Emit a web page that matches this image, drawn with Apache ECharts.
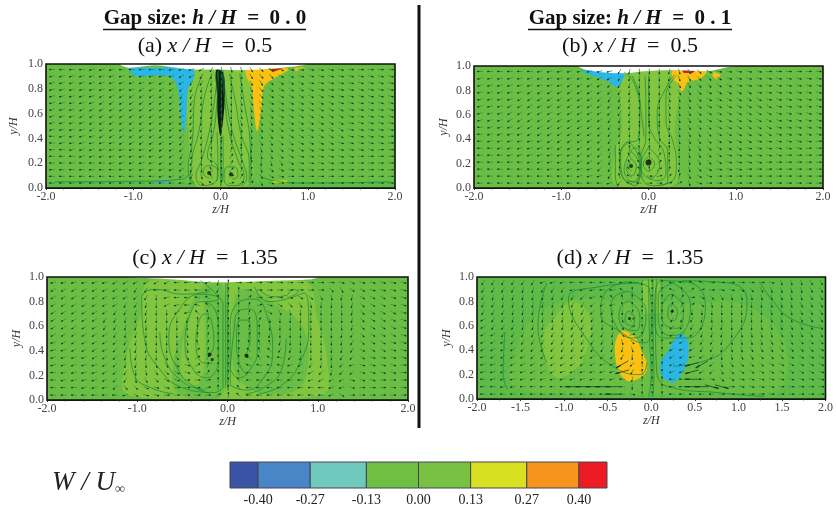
<!DOCTYPE html>
<html><head><meta charset="utf-8">
<style>html,body{margin:0;padding:0;background:#fff}#c{width:836px;height:513px;filter:blur(0.5px)}</style>
<script src="https://cdn.jsdelivr.net/npm/echarts@6/dist/echarts.min.js"></script>
</head><body><div id="c"></div>
<script>
// Colour bar
const levelEdges=[-0.47,-0.40,-0.27,-0.13,0,0.13,0.27,0.40,0.47];
const levelColors=['#3a53a4','#4886c8','#6fc9bd','#6fbf45','#78c143','#d9e021','#f7941d','#ed1c24'];
const levelTicks=[-0.40,-0.27,-0.13,0,0.13,0.27,0.40];
// Contour colours
const BASE='#6bbe43',LIGHT='#83c53e',DARK='#60ba47',BLUE='#2bb6e8',ORANGE='#fdc010',RED='#c0202a',YEL='#e3d51c',WHITE='#ffffff';

// Velocity directions, one letter per arrow (a=0deg, each next letter +15deg, capital = long arrow)
const vecA=[
'mmmmnnnmmmmmnnnoq s ttuvwwxxxxxxaaaaa','nnnnnnnnnnnnnooqr s ttuvvwwxxxxxxxxxx','nnnnnnnnnnnoooqqr s stuuvwwwxxxxxxxxx',
'nnnnnnnnnoooopqrr s stuvvwwwwxxxxxxxx','nnnnnooooooopqqrs s stuvwwwwwwxxxxxxx','nnnnnoooooooopqrs s stuvwwwwwwwxxxxxx',
'nnnoooooooooopqrr s sttuvwwwwwwwxxxxx','nnnoooooooooooqrr s sttuvwwwwwwwxxxxx','nnnnooooooooooprr s sttuvwwwwwwwxxxxx',
'nnnnooooooooooqrs s sttuvvwwwwwwxxxxx','mnnnnoooooooopqrs s gstuuvwwwwwwxxxxa','mnnnnnnoooooopqrg g fstuuvvwwwwxxxxxa',
'mmnnnnnnnnoooprsg g fgstuvwwwxxxxxxaa','mmmnnnnnnnnooqrsh g efstuvwxxxxxxaaaa','mmmmmmnnnnnoopqsh g effstuwxxxxaaaaaa',
'mmmmmmmmnnnnnoqsi g dfftvwxxxaaaaaaaa','mmmmmmmmmmmnnoqti g cefuwxaaaaaaaaaaa','mmmmmmmmmmmmmmnvk g bcduxaaaaaaaaaaaa'];
const vecB=[
'mmmmmmnnnnnnnnqrs s srtuvwxxxxxaaaaaa','nnnnnnnnnnnnooqrs s srtuvvwxxxxxxxxxx','nnnnnnnnnoooopqrs s stuuvvwwxxxxxxxxx',
'nnnnnoooooooopqrs s stuuvwwwwwxxxxxxx','nnnnoooooooopqrrs s sttuvwwwwwwxxxxxx','nnnoooooooooopqrs s sttuvwwwwwwwxxxxx',
'nnnoooooooooopqrs s sttuvwwwwwwwxxxxx','nnnooooooooooqrrs s sttuvwwwwwwwxxxxx','mnnnoooooooopqrrg g gstuvvwwwwwwxxxxx',
'mnnnnooooooopqrsg g gstuuvwwwwwwxxxxx','mnnnnnnooooopqrsg g fstuuvwwwwxxxxxxa','mmnnnnnnoooopqsgh g fgstuvwwwxxxxxxaa',
'mmmnnnnnnnooprgih g egstuvwxxxxxxaaaa','mmmmmnnnnnooprgij g dgstuvwxxxxaaaaaa','mmmmmmmnnnnnpqgji g cfrtvwxxxaaaaaaaa',
'mmmmmmmmmmnnnqhkk a bdfuwxaaaaaaaaaaa','mmmmmmmmmmmmmnplm a abctxaaaaaaaaaaaa'];
const vecC=[
'nnnnnnoooooommmnr g aaaaaaaaaaxwxxxxx','ooooooooqqmmmmmmq g gaaaaaaaavuwwxxxx','oooooooopqsnmmlkg g gdaaaxwvutrrwwwxx',
'oooooooqqrsonmljg g gfbxwvutsssrvwwxx','ooooooqqrrssonjhg g gfdwutsssssrvwwwx','oooooqqrrrsssrgfg g gfetsssssssrvwwwx',
'oooooqqrrsssssgfg g gfgssssssssrvwwwx','ooooooqrrsssstgfg g gfgrssssssrqvwwwx','nooooopqrssssthfg g ghhhrsssssrqvwwxx',
'nnoooopqrrssstdfg g gjhjqrssssrqwwwxx','nnnnooprrrstuuceg g gkiklprsssqpwxxxx','nnnnnoprrstuvxcfg g hllllnoqrspnxxxxa',
'mnnnnopqstuvwxbeg g hmmmmmnoprppxxxxa','mnnnnopqtuvwxaabg g immmmmmnoooxxxaaa','mmmnnnpvvwxxaaabg g immmmmmmmnnxaaaaa',
'mmmmmmmnwxxaaaaac g jmmmmmmmmnwaaaaaa'];
const vecD=[
'qqqqqqnnnmmmmmmmr g gmlkkaaaaaaxtttuu','qqqqrrqqqnnnmmkgs g gkhdbaxxwvuttttuu','qrrrrrrrqqpnkjhgs g gfeawvuttttttttuu',
'qqrrrrrrrqqponhgs g gfecvtssssstttuuu','qqqrrrrrrrqpqrsfg g gfdsssssssstttuuu','oqqrrrrrrrqqrstdg g gqqqrsssssstttuuu',
'oqqqrrrrrqqqrsucg g gppqqrrssstttuuuu','ooqqqqqqqqqqqrvbg g gppprrrsttttuuuuu','ooopqqqqqqqqqstvg g goopqqrttttuuuvvv',
'ooooppppqqqqqqrtg g gonoqqrttuuuvvvvw','noooopppppooppqsg g goonoqstuuvvvwwww','nnoooooooooonnOpg g gonNOptuvvvwwwwww',
'nnnnnooonnnnnnNqg g gnnNopuvwwwwwwwwx','mnnnnnnnnnnnnnmrg g gmmMmxvwxxxxxxxxx','mmnnmmmmmMMMMMmsg g gmmMMXXaxxxxaaaaa',
'mmmmmmmmmmmmmMmxg g gmmmmmaaaaaaaaaaa'];

// Contour regions: [colour, [z,y] ...]
const regionsA=[
[DARK,[-2,.05],[-.3,.04],[-.3,0],[-2,0]],[DARK,[.35,.05],[2,.05],[2,0],[.35,0]],
[LIGHT,[-.36,.97],[.33,.97],[.34,.4],[.33,.03],[-.3,.03],[-.36,.4]],
['#8cc63f',[-.3,.1],[-.24,.02],[-.16,.01],[-.12,.06],[-.2,.12]],
[BLUE,[-1.05,.96],[-.7,.97],[-.33,.97],[-.3,.9],[-.37,.8],[-.39,.6],[-.42,.44],[-.46,.6],[-.49,.8],[-.56,.89],[-.75,.91],[-.95,.9]],
[ORANGE,[.3,.96],[.78,.96],[.6,.88],[.5,.82],[.47,.65],[.42,.46],[.38,.65],[.36,.82],[.31,.88]],
[RED,[.55,.96],[.72,.965],[.6,.935]],[ORANGE,[.85,.97],[.96,.975],[.86,.94]],
['#3aa8d8',[-.75,.06],[-.58,.06],[-.58,.045],[-.75,.045]],[YEL,[.6,.06],[.77,.06],[.75,.04],[.6,.045]],
[WHITE,[-1.15,1.0],[-1.05,.97],[-.75,.99],[-.4,.96],[-.05,.955],[.2,.95],[.5,.96],[.85,.98],[1.0,1.0]],
['#0c1a10',[-.05,.95],[.03,.93],[.05,.75],[.03,.55],[0,.42],[-.03,.55],[-.04,.75]]];
const regionsB=[
[LIGHT,[-.3,.95],[.33,.95],[.3,.5],[.3,.03],[-.38,.03],[-.38,.3],[-.3,.5]],
[BLUE,[-.75,.97],[-.28,.95],[-.3,.88],[-.37,.83],[-.45,.87],[-.6,.91],[-.75,.95]],
[ORANGE,[.28,.96],[.66,.96],[.6,.9],[.45,.87],[.42,.83],[.38,.79],[.34,.85],[.28,.9]],
[RED,[.38,.975],[.55,.97],[.5,.94],[.4,.945]],[ORANGE,[.75,.95],[.83,.93],[.78,.89],[.73,.92]],
[WHITE,[-.8,1.0],[-.72,.97],[-.35,.94],[0,.96],[.35,.965],[.7,.96],[.9,.99],[1.0,1.0]]];
const regionsC=[
[LIGHT,[-1.1,.04],[-1.12,.35],[-.98,.65],[-.85,.97],[.85,.97],[1.0,.65],[1.1,.35],[1.05,.04]],
[BASE,[-.55,.05],[-.6,.3],[-.48,.6],[-.3,.9],[-.05,.93],[-.05,.05]],
[BASE,[.1,.2],[.05,.6],[.15,.9],[.6,.75],[.83,.6],[.9,.35],[.8,.1],[.4,.05]],
[LIGHT,[-.52,.3],[-.42,.7],[-.28,.82],[-.25,.4],[-.3,.15],[-.45,.12]],
[WHITE,[-1.15,1.0],[-.6,.98],[-.25,.96],[.1,.96],[.5,.97],[.9,.98],[1.0,1.0]]];
const regionsD=[
[DARK,[-2,0],[-2,1],[2,1],[2,0]],
[BASE,[-1.6,.12],[-1.55,.42],[-1.3,.7],[-.9,.82],[-.5,.8],[0,.8],[.5,.78],[.9,.8],[1.3,.68],[1.55,.42],[1.5,.1],[1.2,.05],[-1.2,.05]],
[LIGHT,[-1.25,.5],[-1.1,.68],[-.9,.8],[-.7,.66],[-.8,.3],[-1.1,.18]],
[LIGHT,[-.1,.97],[.1,.97],[.1,.7],[-.1,.7]],
[ORANGE,[-.33,.56],[-.41,.47],[-.41,.33],[-.37,.22],[-.28,.15],[-.17,.16],[-.06,.22],[-.05,.3],[-.1,.38],[-.18,.5]],
[BLUE,[.34,.54],[.42,.47],[.42,.33],[.37,.23],[.27,.14],[.18,.15],[.11,.21],[.11,.31],[.18,.38],[.26,.48]]];

// Streamlines
const linesA=[
[[-.03,.95],[-.07,.7],[-.13,.45],[-.22,.22],[-.28,.1],[-.2,.02],[-.1,.03],[-.03,.1],[-.06,.17],[-.15,.18],[-.2,.12],[-.13,.08]],
[[-.02,.95],[-.04,.7],[-.08,.45],[-.15,.25],[-.06,.2],[-.02,.14]],[[-.1,.92],[-.18,.75],[-.25,.45],[-.33,.22],[-.34,.1],[-.3,.03]],
[[-.2,.92],[-.3,.7],[-.32,.4],[-.37,.15],[-.33,.03]],[[-1.9,.05],[-.9,.055],[-.45,.07],[-.33,.14]],
[[.02,.92],[.05,.7],[.1,.45],[.2,.22],[.27,.1],[.2,.02],[.1,.02],[.04,.08],[.08,.17],[.16,.17],[.2,.1],[.13,.07]],
[[.03,.95],[.07,.7],[.15,.42],[.26,.2],[.3,.08],[.24,.01]],[[.1,.92],[.17,.7],[.23,.45],[.33,.2],[.33,.04]],
[[.22,.92],[.27,.7],[.34,.35],[.35,.04]],[[1.95,.05],[1.0,.04],[.6,.06],[.45,.1]],
[[0,.4],[0,.2],[0,.01]],[[-.04,.45],[-.03,.2],[-.04,.06]],[[.03,.42],[.03,.2],[.02,.05]]];
const linesB=[
[[-.28,.95],[-.16,.85],[-.1,.6],[-.12,.4],[-.28,.36],[-.33,.2],[-.25,.06],[-.15,.05],[-.08,.2],[-.15,.33],[-.22,.3]],
[[-.22,.38],[-.1,.2],[-.15,.02],[-.3,.1],[-.32,.28],[-.22,.38]],[[-.2,.3],[-.1,.18],[-.17,.05],[-.28,.15],[-.2,.3]],
[[-.2,.24],[-.14,.18],[-.19,.1],[-.25,.16],[-.2,.24]],[[0,.26],[.07,.2],[0,.14],[-.06,.2],[0,.26]],[[0,.33],[.13,.2],[.02,.08],[-.09,.18],[0,.33]],
[[-.04,.92],[-.03,.65],[-.03,.42],[-.09,.22],[-.07,.08],[.05,.02],[.22,.06],[.22,.3],[.12,.42],[.1,.6],[.22,.85],[.3,.93]],
[[.0,.92],[.0,.55],[.06,.42],[.18,.28],[.2,.12],[.1,.06],[0,.08]],[[.32,.92],[.2,.75],[.2,.55],[.28,.38],[.32,.2],[.3,.08],[.1,.02]],
[[-.19,.92],[-.12,.8],[-.08,.6],[-.05,.42]],[[-.38,.35],[-.38,.1],[-.35,.01]]];
const linesC=[
[[-.2,.36],[-.15,.45],[-.17,.62],[-.25,.7],[-.33,.6],[-.35,.45],[-.25,.3],[-.17,.3]],
[[-.1,.28],[-.1,.55],[-.13,.72],[-.3,.8],[-.42,.68],[-.47,.45],[-.38,.25],[-.22,.18],[-.1,.28]],
[[-.05,.1],[-.05,.6],[-.05,.78],[-.3,.86],[-.55,.72],[-.65,.5],[-.55,.25],[-.35,.1],[-.15,.06],[-.05,.1]],
[[-.2,.88],[-.5,.86],[-.8,.9],[-.95,.82],[-.92,.5],[-.75,.25],[-.5,.1],[-.2,.06]],
[[-.75,.55],[-.7,.35],[-.5,.15],[-.25,.08]],[[-1.08,.42],[-1.03,.2],[-.85,.1],[-.6,.05]],[[-.3,.97],[-.15,.88],[-.1,.82],[-.25,.8]],
[[.2,.36],[.25,.5],[.24,.65],[.15,.65],[.1,.5],[.13,.3],[.22,.2]],
[[.03,.25],[.07,.55],[.12,.72],[.25,.74],[.33,.58],[.33,.4],[.25,.25],[.12,.18],[.03,.25]],
[[.03,.12],[.03,.55],[.1,.78],[.3,.82],[.45,.65],[.5,.4],[.4,.18],[.2,.08],[.03,.12]],
[[.3,.92],[.45,.8],[.65,.82],[.85,.87],[.9,.6],[.8,.3],[.6,.12],[.35,.05]],
[[.35,.9],[.5,.84],[.65,.85],[.72,.9],[.78,.88],[.7,.84]],[[.65,.5],[.6,.25],[.4,.1],[.2,.05]],
[[0,.95],[0,.5],[0,.08]],[[-.02,.95],[-.02,.5],[-.02,.1]]];
const linesD=[
[[-.25,.72],[-.19,.66],[-.23,.6],[-.3,.64],[-.29,.7],[-.25,.72]],[[-.24,.8],[-.13,.68],[-.17,.56],[-.3,.58],[-.37,.68],[-.32,.78],[-.24,.8]],
[[-.25,.88],[-.06,.72],[-.1,.54],[-.22,.5],[-.42,.62],[-.46,.76],[-.38,.86],[-.25,.88]],[[-.3,.96],[-.02,.9],[0,.6],[-.08,.46],[-.35,.55],[-.58,.7],[-.55,.85],[-.3,.96]],
[[.24,.78],[.3,.72],[.25,.64],[.19,.68],[.2,.76],[.24,.78]],[[.24,.86],[.37,.74],[.3,.58],[.17,.6],[.12,.72],[.17,.83],[.24,.86]],
[[.25,.95],[.45,.78],[.38,.56],[.22,.52],[.08,.66],[.08,.85],[.25,.95]],[[.1,.97],[.4,.96],[.62,.78],[.55,.56],[.38,.5],[.14,.5],[.04,.7],[.05,.9],[.1,.97]],
[[-.15,.95],[-.6,.92],[-.95,.82],[-.75,.5],[-.4,.25],[-.12,.2],[-.05,.3]],[[.35,.97],[.9,.95],[1.1,.8],[.9,.45],[.55,.3],[.25,.27]],
[[-.03,.98],[-.02,.5],[0,.2],[-.03,.02]],[[.02,.98],[.02,.6],[.03,.2],[.02,.02]],[[.06,.98],[.05,.6],[.06,.25],[.2,.1],[.8,.05],[1.3,.02]],
[[1.25,.95],[1.4,.8],[1.6,.66],[1.95,.58]],[[-1.2,.95],[-1.3,.6],[-1.2,.3]],[[-1.68,.55],[-1.7,.2],[-1.65,.08]]];

// Dark spots at vortex cores: [z,y,size]
const spotsA=[[-.13,.12,4],[.12,.11,4]],spotsB=[[-.2,.18,4],[0,.21,6]],spotsC=[[-.2,.37,4],[-.17,.33,3],[.21,.36,4]],spotsD=[[-.25,.66,3],[.24,.72,3]];

// Tick steps and panel titles
const panelTitles=['(a) ','(b) ','(c) ','(d) '];
const panelValues=['0.5','0.5','1.35','1.35'];
const gapValues=['0 . 0','0 . 1'];
const xSteps=[1,1,1,0.5];

const panels=[
{l:46,t:64,w:349,h:124,vec:vecA,reg:regionsA,lin:linesA,spots:spotsA,base:BASE},
{l:474,t:66,w:349,h:122,vec:vecB,reg:regionsB,lin:linesB,spots:spotsB,base:BASE},
{l:47,t:277,w:361,h:123,vec:vecC,reg:regionsC,lin:linesC,spots:spotsC,base:BASE},
{l:477,t:277,w:351,h:122,vec:vecD,reg:regionsD,lin:linesD,spots:spotsD,base:BASE}];

const serif='"Liberation Serif","Times New Roman",serif';
const grid=[],xAxis=[],yAxis=[],series=[];
panels.forEach((p,i)=>{
  grid.push({left:p.l,top:p.t,width:p.w,height:p.h,show:true,backgroundColor:p.base,borderWidth:0});
  xAxis.push({type:'value',gridIndex:i,min:-2,max:2,interval:xSteps[i],name:'z/H',nameLocation:'middle',nameGap:i<2?15:13,
    nameTextStyle:{fontFamily:serif,fontStyle:'italic',fontSize:12,color:'#333'},
    axisLine:{show:true,lineStyle:{color:'#222',width:1}},axisTick:{length:2,lineStyle:{color:'#333'}},
    minorTick:{show:true,splitNumber:i==3?2:5,length:1.5,lineStyle:{color:'#666'}},splitLine:{show:false},
    axisLabel:{margin:3,fontFamily:serif,fontSize:12,color:'#444',formatter:v=>v.toFixed(1)}});
  yAxis.push({type:'value',gridIndex:i,min:0,max:1,interval:.2,name:'y/H',nameLocation:'middle',nameGap:i==0?26:24,
    nameTextStyle:{fontFamily:serif,fontStyle:'italic',fontSize:12,color:'#333'},
    axisLine:{show:true,lineStyle:{color:'#222',width:1}},axisTick:{length:2,lineStyle:{color:'#333'}},splitLine:{show:false},
    axisLabel:{margin:3,fontFamily:serif,fontSize:12,color:'#444',formatter:v=>v.toFixed(1)}});
  const base={xAxisIndex:i,yAxisIndex:i,silent:true,animation:false};
  series.push({...base,type:'custom',z:2,clip:true,data:p.reg.map((r,k)=>[r[1][0],r[1][1],k]),
    renderItem:(par,api)=>{const r=p.reg[api.value(2)];
      return {type:'polygon',shape:{points:r.slice(1).map(q=>api.coord(q)),smooth:r.length>5?.35:0},style:{fill:r[0]}};}});
  p.lin.forEach(l=>series.push({...base,type:'line',z:3,data:l,smooth:.5,showSymbol:false,symbol:'none',
    lineStyle:{color:'#12823f',width:.8,opacity:.85}}));
  // arrows
  const arrows=[];
  const rows=p.vec.map(s=>s.replace(/ /g,''));
  rows.forEach((s,ri)=>{const y=.955-ri*(.915/(rows.length-1));
    [...s].forEach((ch,ci)=>{const z=-1.93+ci*(3.88/34);
      const lo=ch.toLowerCase();arrows.push([z,y,(lo.charCodeAt(0)-97)*15,ch===lo?0:1]);});});
  series.push({...base,type:'custom',z:4,clip:true,data:arrows,renderItem:(par,api)=>{
    const c=api.coord([api.value(0),api.value(1)]),a=api.value(2)*Math.PI/180,L=api.value(3)?7:2.8;
    const dx=Math.cos(a),dy=-Math.sin(a);
    return {type:'group',children:[
      {type:'line',shape:{x1:c[0]-dx*L,y1:c[1]-dy*L,x2:c[0]+dx*L,y2:c[1]+dy*L},style:{stroke:api.value(3)?'#0c4a28':'#26944a',lineWidth:.8}},
      {type:'line',shape:{x1:c[0]+dx*L*.3,y1:c[1]+dy*L*.3,x2:c[0]+dx*L,y2:c[1]+dy*L},style:{stroke:'#0c4024',lineWidth:1.3}}]};}});
  series.push({...base,type:'scatter',z:5,data:p.spots,symbolSize:d=>d[2],itemStyle:{color:'#0a120c'}});
  series.push({...base,type:'custom',z:6,clip:false,data:[[0,0]],renderItem:(par)=>{const g=par.coordSys;
    return {type:'rect',shape:{x:g.x,y:g.y,width:g.width,height:g.height},style:{fill:'none',stroke:'#111',lineWidth:1.6}};}});
});
// colour bar axis
grid.push({left:230,top:462,width:377,height:26,borderWidth:0});
xAxis.push({type:'value',gridIndex:4,min:levelEdges[0],max:levelEdges[levelEdges.length-1],
  axisLine:{show:false},axisTick:{show:false},splitLine:{show:false},
  axisLabel:{customValues:levelTicks,margin:5,fontFamily:serif,fontSize:14,color:'#222',formatter:v=>v.toFixed(2)}});
yAxis.push({type:'value',gridIndex:4,min:0,max:1,show:false});
series.push({type:'custom',xAxisIndex:4,yAxisIndex:4,silent:true,animation:false,
  data:levelColors.map((c,i)=>[levelEdges[i],levelEdges[i+1],i]),
  renderItem:(par,api)=>{const a=api.coord([api.value(0),1]),b=api.coord([api.value(1),0]);
    return {type:'rect',shape:{x:a[0],y:a[1],width:b[0]-a[0],height:b[1]-a[1]},
      style:{fill:levelColors[api.value(2)],stroke:'#445',lineWidth:1}};}});

const rich={b:{fontFamily:serif,fontWeight:'bold',fontSize:21,color:'#111'},bi:{fontFamily:serif,fontWeight:'bold',fontStyle:'italic',fontSize:21,color:'#111'},
  n:{fontFamily:serif,fontWeight:'normal',fontSize:22,color:'#111'},i:{fontFamily:serif,fontWeight:'normal',fontStyle:'italic',fontSize:22,color:'#111'}};
const centers=[205,630,205,630],subTops=[35,35,247,247];
const title=[];
gapValues.forEach((g,i)=>title.push({text:'{b|Gap size: }{bi|h / H}{b|  =  '+g+'}',left:i?630:205,top:8,padding:0,textAlign:'center',textStyle:{fontWeight:'normal',rich}}));
panelTitles.forEach((t,i)=>title.push({text:'{n|'+t+'}{i|x / H}{n|  =  '+panelValues[i]+'}',left:centers[i],top:subTops[i],padding:0,textAlign:'center',textStyle:{fontWeight:'normal',rich}}));
title.push({text:'{w|W / U}{s|∞}',left:52,top:469,padding:0,textStyle:{fontWeight:'normal',rich:{w:{fontFamily:serif,fontWeight:'normal',fontStyle:'italic',fontSize:27,color:'#222'},
  s:{fontFamily:serif,fontWeight:'normal',fontSize:14,color:'#444',verticalAlign:'bottom'}}}});

const chart=echarts.init(document.getElementById('c'),null,{renderer:'canvas'});
chart.setOption({animation:false,backgroundColor:'#fff',title,grid,xAxis,yAxis,series,
  graphic:[
   {type:'line',shape:{x1:419,y1:5,x2:419,y2:428},style:{stroke:'#111',lineWidth:3}},
   {type:'line',shape:{x1:103,y1:29.5,x2:306,y2:29.5},style:{stroke:'#111',lineWidth:1.5}},
   {type:'line',shape:{x1:528,y1:29.5,x2:732,y2:29.5},style:{stroke:'#111',lineWidth:1.5}}]});
</script></body></html>
